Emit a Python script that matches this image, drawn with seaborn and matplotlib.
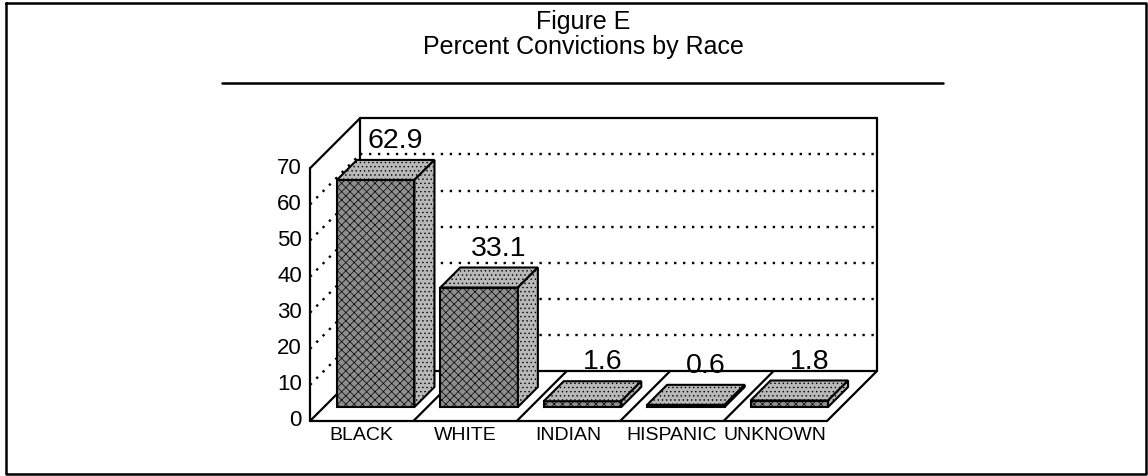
import matplotlib
matplotlib.use("Agg")
import matplotlib.pyplot as plt
import seaborn as sns
from matplotlib.patches import Polygon
from matplotlib.lines import Line2D

# data
races = ["BLACK", "WHITE", "INDIAN", "HISPANIC", "UNKNOWN"]
percent = [62.9, 33.1, 1.6, 0.6, 1.8]
tick_values = [0, 10, 20, 30, 40, 50, 60, 70]
title_lines = ["Figure E", "Percent Convictions by Race"]

W, H = 1148, 476
sns.set_style("white")
plt.rcParams["font.family"] = ["Liberation Sans", "DejaVu Sans"]
plt.rcParams["text.color"] = "black"
plt.rcParams["hatch.linewidth"] = 0.5

# geometry of the fake 3D box (pixels)
CAT_PX = 103.4          # px per category
VAL_PX = 3.61           # px per percent point
X0, Y0 = 375.7, 407     # pixel of category 0 / value 0 on the bar front plane
FLOOR_FRONT, BAR_BACK, FLOOR_BACK = -14, 20, 36   # depths in px
TOP = 70
BAR_W = 0.75


def P(x, v, d):
    # oblique projection: depth d (px) moves up and to the right
    return (x + d / CAT_PX, v + d / VAL_PX)


def line(p1, p2, **kw):
    ax.add_line(Line2D([p1[0], p2[0]], [p1[1], p2[1]], **kw))


fig = plt.figure(figsize=(W / 100, H / 100), dpi=100)
ax = fig.add_axes([0, 0, 1, 1])

# front faces of the bars
sns.barplot(x=races, y=percent, ax=ax, width=BAR_W, color="#8e8e8e",
            edgecolor="black", linewidth=1.5, hatch="xxxx", errorbar=None,
            zorder=5)

# top and side faces
for i, v in enumerate(percent):
    l, r = i - BAR_W / 2, i + BAR_W / 2
    top = [P(l, v, 0), P(r, v, 0), P(r, v, BAR_BACK), P(l, v, BAR_BACK)]
    side = [P(r, 0, 0), P(r, v, 0), P(r, v, BAR_BACK), P(r, 0, BAR_BACK)]
    for pts in (top, side):
        ax.add_patch(Polygon(pts, closed=True, facecolor="#b8b8b8",
                             edgecolor="black", linewidth=1.5, hatch="....",
                             zorder=5))
    x, y = P(i, v, BAR_BACK)
    ax.text(x, y + 12 / VAL_PX, f"{v:.1f}", ha="center", va="baseline",
            fontsize=20.5, zorder=6)

solid = dict(color="black", linewidth=1.6, zorder=2)
dotted = dict(color="black", linewidth=1.7, linestyle=(0, (1, 2.8)), zorder=2)
L, R = -0.5, len(races) - 0.5

# walls and floor outline
line(P(L, 0, FLOOR_FRONT), P(L, TOP, FLOOR_FRONT), **solid)
line(P(L, TOP, FLOOR_FRONT), P(L, TOP, FLOOR_BACK), **solid)
line(P(L, 0, FLOOR_BACK), P(L, TOP, FLOOR_BACK), **solid)
line(P(L, TOP, FLOOR_BACK), P(R, TOP, FLOOR_BACK), **solid)
line(P(R, TOP, FLOOR_BACK), P(R, 0, FLOOR_BACK), **solid)
line(P(L, 0, FLOOR_BACK), P(R, 0, FLOOR_BACK), **solid)
line(P(L, 0, FLOOR_FRONT), P(R, 0, FLOOR_FRONT), **solid)
for k in range(len(races) + 1):
    line(P(k - 0.5, 0, FLOOR_FRONT), P(k - 0.5, 0, FLOOR_BACK), **solid)

# dotted gridlines on back and side walls
for t in tick_values[1:-1]:
    line(P(L, t, FLOOR_BACK), P(R, t, FLOOR_BACK), **dotted)
    line(P(L, t, FLOOR_FRONT), P(L, t, FLOOR_BACK), **dotted)

# tick labels and category labels
for t in tick_values:
    x, y = P(L, t, FLOOR_FRONT)
    ax.text(x - 8 / CAT_PX, y, str(t), ha="right", va="center", fontsize=16)
for i, name in enumerate(races):
    x, y = P(i, 0, FLOOR_FRONT)
    ax.text(x, y - 15 / VAL_PX, name, ha="center", va="center", fontsize=14)

ax.set_xlim(-X0 / CAT_PX, (W - X0) / CAT_PX)
ax.set_ylim((Y0 - H) / VAL_PX, Y0 / VAL_PX)
ax.set_axis_off()

# title, rule and frame
fig.text(583 / W, 1 - 22 / H, title_lines[0], ha="center", va="center", fontsize=18)
fig.text(583 / W, 1 - 47 / H, title_lines[1], ha="center", va="center", fontsize=18)
fig.add_artist(Line2D([222 / W, 943 / W], [1 - 83 / H] * 2,
                      transform=fig.transFigure, color="black", linewidth=1.8))
fx = [6 / W, 1146 / W, 1146 / W, 6 / W, 6 / W]
fy = [1 - 3 / H, 1 - 3 / H, 1 - 474 / H, 1 - 474 / H, 1 - 3 / H]
fig.add_artist(Line2D(fx, fy, transform=fig.transFigure, color="black", linewidth=1.8))

fig.savefig("out.png", dpi=100)
